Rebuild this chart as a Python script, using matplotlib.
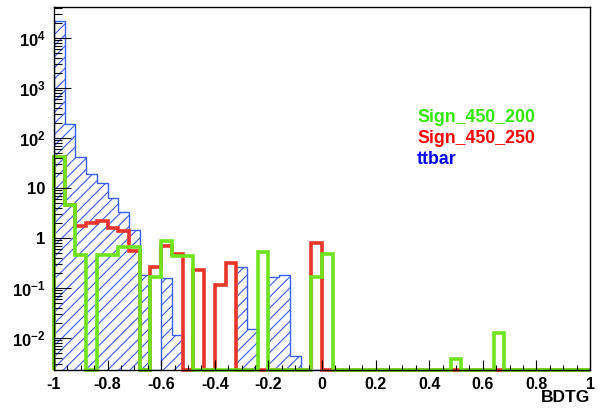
import matplotlib
matplotlib.use("Agg")
import matplotlib.pyplot as plt
import numpy as np
from matplotlib.ticker import FixedLocator, LogLocator, NullFormatter

plt.rcParams["font.family"] = ["Liberation Sans", "DejaVu Sans"]
plt.rcParams["mathtext.fontset"] = "custom"
plt.rcParams["mathtext.rm"] = "Liberation Sans"
plt.rcParams["mathtext.bf"] = "Liberation Sans:bold"
plt.rcParams["hatch.linewidth"] = 0.8

# 50 bins of BDTG output in [-1, 1]
bin_edges = np.linspace(-1.0, 1.0, 51)

ttbar = [
    2.2e4, 190, 42, 19, 12.6, 6.4, 3.3, 1.45, 0.18, 0,
    0.16, 0.0115, 0, 0, 0, 0, 0, 0.26, 0.015, 0,
    0.17, 0.18, 0.0044, 0, 0, 0, 0, 0, 0, 0,
    0, 0, 0, 0, 0, 0, 0, 0, 0, 0,
    0, 0, 0, 0, 0, 0, 0, 0, 0, 0,
]
sign_450_250 = [
    42, 4.5, 1.74, 2.0, 2.2, 1.6, 1.4, 0.55, 0, 0.26,
    0.69, 0.48, 0, 0.23, 0, 0.115, 0.32, 0, 0, 0,
    0, 0, 0, 0, 0.8, 0, 0, 0, 0, 0,
    0, 0, 0, 0, 0, 0, 0, 0, 0, 0,
    0, 0, 0, 0, 0, 0, 0, 0, 0, 0,
]
sign_450_200 = [
    42, 4.6, 0.45, 0, 0.46, 0.46, 0.68, 0.68, 0, 0.17,
    0.87, 0.44, 0.44, 0, 0, 0, 0, 0, 0, 0.52,
    0, 0, 0, 0, 0.17, 0.48, 0, 0, 0, 0,
    0, 0, 0, 0, 0, 0, 0, 0.0038, 0, 0,
    0, 0.0126, 0, 0, 0, 0, 0, 0, 0, 0,
]

legend_labels = ["Sign_450_200", "Sign_450_250", "ttbar"]
legend_colors = ["#33e800", "#ff0000", "#0000ff"]

y_min, y_max = 2.3e-3, 4.2e4
x_ticks = [-1, -0.8, -0.6, -0.4, -0.2, 0, 0.2, 0.4, 0.6, 0.8, 1]
x_tick_labels = ["-1", "-0.8", "-0.6", "-0.4", "-0.2", "0", "0.2", "0.4", "0.6", "0.8", "1"]
y_ticks = [1e-2, 1e-1, 1, 10, 1e2, 1e3, 1e4]
y_tick_labels = [r"$\mathbf{10^{-2}}$", r"$\mathbf{10^{-1}}$", "1", "10",
                 r"$\mathbf{10^{2}}$", r"$\mathbf{10^{3}}$", r"$\mathbf{10^{4}}$"]


def floor_zero(values):
    # ROOT draws empty bins on the frame bottom in log scale
    return np.maximum(np.asarray(values, dtype=float), y_min)


fig = plt.figure(figsize=(6.08, 4.08), dpi=100)
ax = fig.add_axes([0.0888, 0.0931, 0.8816, 0.8897])

ax.stairs(floor_zero(ttbar), bin_edges, baseline=y_min, fill=True,
          facecolor="none", edgecolor="#3a5cf0", hatch="///", linewidth=1.0)
ax.stairs(floor_zero(sign_450_250), bin_edges, baseline=y_min,
          color="#e8352a", linewidth=2.6, clip_on=False)
ax.stairs(floor_zero(sign_450_200), bin_edges, baseline=y_min,
          color="#6ee41c", linewidth=2.6, clip_on=False)

ax.set_yscale("log")
ax.set_xlim(-1, 1)
ax.set_ylim(y_min, y_max)

ax.set_xticks(x_ticks)
ax.set_xticklabels(x_tick_labels, fontsize=11.5, fontweight="bold")
ax.xaxis.set_minor_locator(FixedLocator(np.arange(-1, 1.001, 0.05)))
ax.yaxis.set_major_locator(FixedLocator(y_ticks))
ax.set_yticklabels(y_tick_labels, fontsize=12, fontweight="bold")
ax.yaxis.set_minor_locator(LogLocator(base=10, subs=np.arange(2, 10), numticks=20))
ax.yaxis.set_minor_formatter(NullFormatter())

ax.tick_params(axis="both", which="both", direction="in", top=False, right=False)
ax.tick_params(axis="y", which="major", length=12, width=0.8, pad=6)
ax.tick_params(axis="y", which="minor", length=6, width=0.8)
ax.tick_params(axis="x", which="major", length=7, width=0.8, pad=5)
ax.tick_params(axis="x", which="minor", length=3.5, width=0.8)
for sp in ax.spines.values():
    sp.set_linewidth(1.0)

fig.text(0.970, 0.008, "BDTG", ha="right", va="bottom", fontsize=12.5, fontweight="bold")

for i, (lab, col) in enumerate(zip(legend_labels, legend_colors)):
    fig.text(0.686, 0.713 - i * 0.0515, lab, color=col, fontsize=12.8,
             fontweight="bold", ha="left", va="center")

fig.savefig("out.png", dpi=100)
